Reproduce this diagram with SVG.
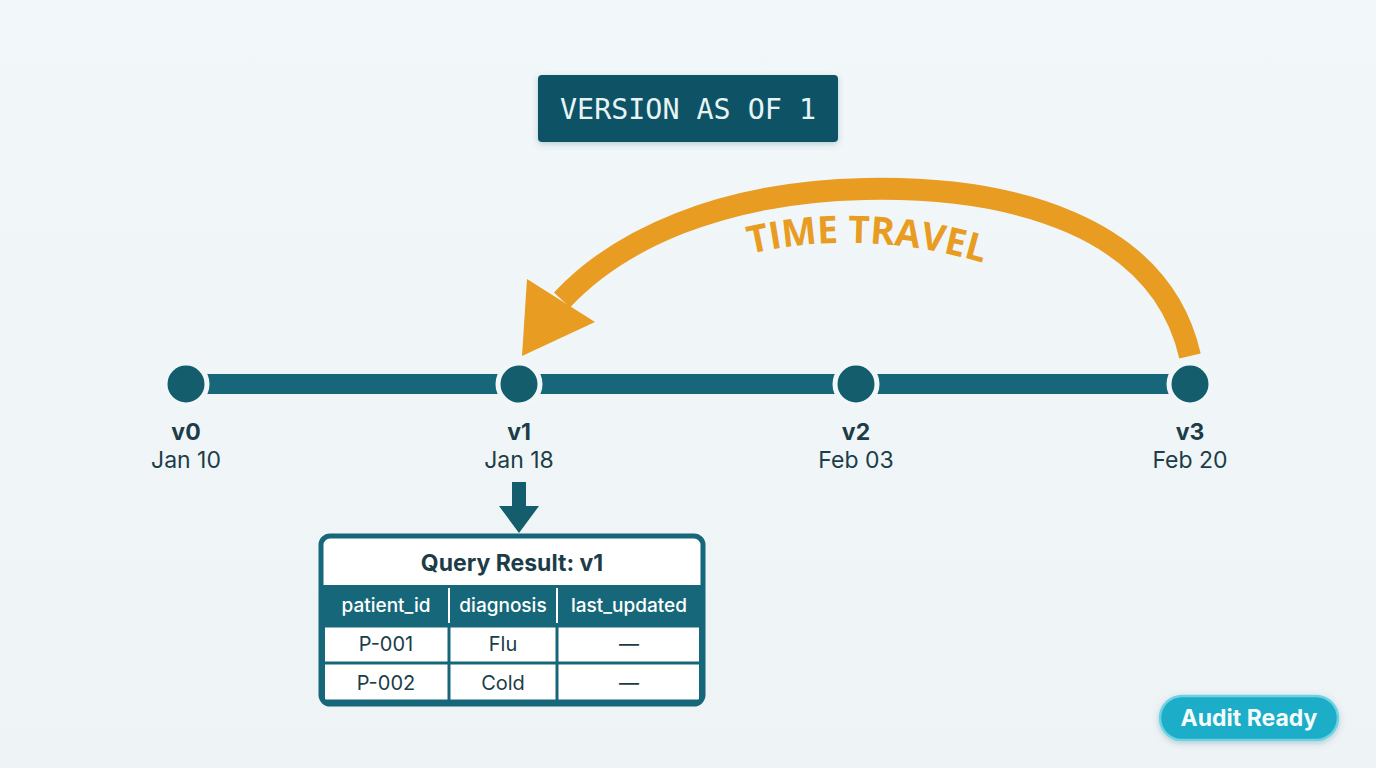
<svg xmlns="http://www.w3.org/2000/svg" width="1376" height="768" viewBox="0 0 1376 768">
  <defs>
    <style>
      .node { fill: #135d6d; stroke: #f1f7f9; stroke-width: 5; }
      .ver { font-family: "Inter", "Liberation Sans", sans-serif; font-weight: 700; font-size: 23px; fill: #1c3d48; text-anchor: middle; }
      .date { font-family: "Inter", "Liberation Sans", sans-serif; font-size: 23px; fill: #1c3d48; text-anchor: middle; }
      .th { font-family: "Inter", "Liberation Sans", sans-serif; font-size: 19px; fill: #ffffff; text-anchor: middle; font-weight: 500; }
      .td { font-family: "Inter", "Liberation Sans", sans-serif; font-size: 20px; fill: #1c3d48; text-anchor: middle; }
      .grid { stroke: #17677a; stroke-width: 3; }
    </style>
    <linearGradient id="bg" x1="0" y1="0" x2="0" y2="1">
      <stop offset="0" stop-color="#f2f7f9"/>
      <stop offset="1" stop-color="#eef4f6"/>
    </linearGradient>
    <filter id="sh" x="-20%" y="-40%" width="140%" height="180%">
      <feDropShadow dx="0" dy="2" stdDeviation="3" flood-color="#0b5060" flood-opacity="0.25"/>
    </filter>
    <path id="tt" d="M 750 254 Q 866 227 990 265"/>
  </defs>
  <rect width="1376" height="768" fill="url(#bg)"/>

  <g id="title">
    <rect x="538" y="75" width="300" height="67" rx="4" fill="#0f5265" filter="url(#sh)"/>
    <text x="688" y="119" font-family="'DejaVu Sans Mono', 'Liberation Mono', monospace" font-size="29" fill="#e8f3f5" text-anchor="middle" textLength="256" lengthAdjust="spacingAndGlyphs">VERSION AS OF 1</text>
  </g>

  <g id="connectors">
    <rect x="186" y="374" width="1004" height="20" fill="#17677a"/>
    <path d="M 1190 356 C 1160 225, 1010 186, 865 189 C 720 192, 618 240, 562 300" fill="none" stroke="#e99c22" stroke-width="22"/>
    <polygon points="527,279 595,322 522,356" fill="#e99c22"/>
    <text font-family="'Open Sans', Lato, 'Liberation Sans', sans-serif" font-weight="700" font-size="38" fill="#e99c22"><textPath href="#tt" textLength="236" lengthAdjust="spacingAndGlyphs">TIME TRAVEL</textPath></text>
    <polygon points="512,482 526,482 526,506 539,506 519,533 499,506 512,506" fill="#135d6d"/>
  </g>

  <g id="v0">
    <circle class="node" cx="186" cy="384" r="21"/>
    <text class="ver" x="186" y="440">v0</text>
    <text class="date" x="186" y="468">Jan 10</text>
  </g>
  <g id="v1">
    <circle class="node" cx="519" cy="384" r="21"/>
    <text class="ver" x="519" y="440">v1</text>
    <text class="date" x="519" y="468">Jan 18</text>
  </g>
  <g id="v2">
    <circle class="node" cx="856" cy="384" r="21"/>
    <text class="ver" x="856" y="440">v2</text>
    <text class="date" x="856" y="468">Feb 03</text>
  </g>
  <g id="v3">
    <circle class="node" cx="1190" cy="384" r="21"/>
    <text class="ver" x="1190" y="440">v3</text>
    <text class="date" x="1190" y="468">Feb 20</text>
  </g>

  <g id="result-table">
    <rect x="321" y="536" width="382" height="168" rx="9" fill="#ffffff" stroke="#17677a" stroke-width="5"/>
    <text x="512" y="571" font-family="Inter, 'Liberation Sans', sans-serif" font-weight="700" font-size="23" fill="#1c3d48" text-anchor="middle">Query Result: v1</text>
    <rect x="323" y="585" width="378" height="41" fill="#17677a"/>
    <line x1="449" y1="588" x2="449" y2="623" stroke="#ffffff" stroke-width="2"/>
    <line x1="557" y1="588" x2="557" y2="623" stroke="#ffffff" stroke-width="2"/>
    <text class="th" x="386" y="612">patient_id</text>
    <text class="th" x="503" y="612">diagnosis</text>
    <text class="th" x="629" y="612">last_updated</text>
    <line class="grid" x1="323" y1="663" x2="701" y2="663"/>
    <line class="grid" x1="449" y1="626" x2="449" y2="702"/>
    <line class="grid" x1="557" y1="626" x2="557" y2="702"/>
    <rect x="323.5" y="626" width="377" height="75" fill="none" stroke="#17677a" stroke-width="3"/>
    <text class="td" x="386" y="651">P-001</text>
    <text class="td" x="503" y="651">Flu</text>
    <text class="td" x="629" y="651">—</text>
    <text class="td" x="386" y="690">P-002</text>
    <text class="td" x="503" y="690">Cold</text>
    <text class="td" x="629" y="690">—</text>
  </g>

  <g id="audit-badge">
    <rect x="1160" y="696" width="178" height="44" rx="22" fill="#1cadc9" stroke="#6dd3e3" stroke-width="2.5" filter="url(#sh)"/>
    <text x="1249" y="726" font-family="Inter, 'Liberation Sans', sans-serif" font-weight="700" font-size="23" fill="#f4fbfc" text-anchor="middle">Audit Ready</text>
  </g>
</svg>
